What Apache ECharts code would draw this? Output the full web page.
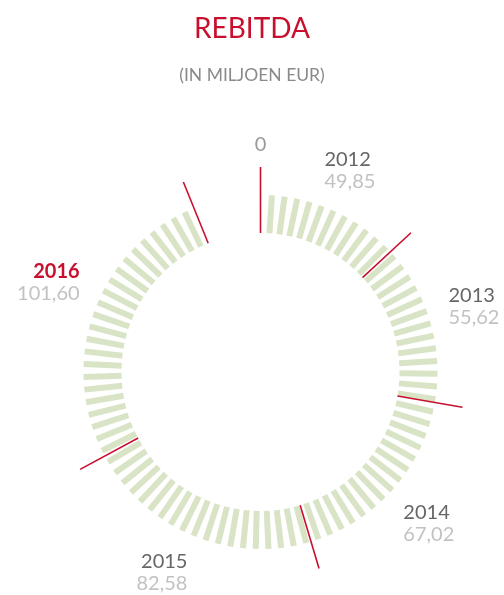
<!DOCTYPE html>
<html>
<head>
<meta charset="utf-8">
<script src="https://cdn.jsdelivr.net/npm/echarts@6/dist/echarts.min.js"></script>
<style>
  html, body { margin: 0; padding: 0; background: #fff; }
  #chart { width: 504px; height: 595px; }
</style>
</head>
<body>
<div id="chart"></div>
<script>
// REBITDA per jaar (in miljoen EUR)
var years = ['2012', '2013', '2014', '2015', '2016'];
var values = [49.85, 55.62, 67.02, 82.58, 101.60];
var highlightYear = '2016';
var scaleMax = 380; // volle cirkel

var RED = '#c8102e';
var CX = 260.5, CY = 372;

// grenzen: 0 en cumulatieve sommen
var bounds = [0];
values.forEach(function (v, i) { bounds.push(bounds[i] + v); });

// label verschuiving (px) per jaar, los van de data
var labelShift = [[-25, 2], [-25, -3], [-23, 4], [12, -5], [28, -14]];

function fmt(v) { return v.toFixed(2).replace('.', ','); }

var lineSeries = bounds.map(function (b) {
    return {
        type: 'line',
        coordinateSystem: 'polar',
        symbol: 'none',
        silent: true,
        lineStyle: { color: RED, width: 1.6 },
        data: [[139, b], [205, b]]
    };
});

var labelData = years.map(function (y, i) {
    var mid = (bounds[i] + bounds[i + 1]) / 2;
    var ang = mid / scaleMax * 2 * Math.PI;
    var rightSide = Math.sin(ang) >= 0;
    return {
        value: [222, mid],
        label: {
            align: rightSide ? 'left' : 'right',
            offset: labelShift[i],
            formatter: '{' + (y === highlightYear ? 'h' : 'y') + '|' + y + '}\n{v|' + fmt(values[i]) + '}'
        }
    };
});
labelData.unshift({
    value: [227, 0],
    label: { align: 'center', offset: [0, 0], formatter: '{z|0}' }
});

var option = {
    animation: false,
    title: [{
        text: 'REBITDA',
        left: 'center',
        top: 8,
        textStyle: { color: RED, fontFamily: 'Lato', fontWeight: 'normal', fontSize: 28, lineHeight: 32 }
    }, {
        text: '(IN MILJOEN EUR)',
        left: 'center',
        top: 60,
        textStyle: { color: '#8a8a8a', fontFamily: 'Lato', fontWeight: 'normal', fontSize: 17.5, lineHeight: 20 }
    }],
    polar: { center: [CX, CY], radius: 260 },
    angleAxis: { type: 'value', min: 0, max: scaleMax, startAngle: 90, clockwise: true, show: false },
    radiusAxis: { type: 'value', min: 0, max: 260, show: false },
    series: [{
        type: 'gauge',
        center: [CX, CY],
        radius: 177,
        startAngle: 86.3,
        endAngle: -244.6,
        min: 0,
        max: 80,
        splitNumber: 80,
        silent: true,
        axisLine: { show: false, lineStyle: { width: 0 } },
        splitLine: { show: true, length: 38, distance: 0, lineStyle: { color: '#d9e4c6', width: 6, cap: 'butt' } },
        axisTick: { show: false },
        axisLabel: { show: false },
        pointer: { show: false },
        anchor: { show: false },
        title: { show: false },
        detail: { show: false },
        data: []
    }].concat(lineSeries).concat([{
        type: 'scatter',
        coordinateSystem: 'polar',
        symbolSize: 1,
        silent: true,
        clip: false,
        itemStyle: { color: 'rgba(0,0,0,0)', opacity: 1 },
        label: {
            show: true,
            opacity: 1,
            position: 'inside',
            verticalAlign: 'middle',
            fontFamily: 'Lato',
            rich: {
                y: { color: '#666666', fontSize: 20, lineHeight: 22, fontFamily: 'Lato' },
                h: { color: RED, fontSize: 20, lineHeight: 22, fontWeight: 'bold', fontFamily: 'Lato' },
                v: { color: '#c2c2c2', fontSize: 20, lineHeight: 22, fontFamily: 'Lato' },
                z: { color: '#999999', fontSize: 20, lineHeight: 22, fontFamily: 'Lato' }
            }
        },
        data: labelData
    }])
};

var chart = echarts.init(document.getElementById('chart'));
chart.setOption(option);
</script>
</body>
</html>
